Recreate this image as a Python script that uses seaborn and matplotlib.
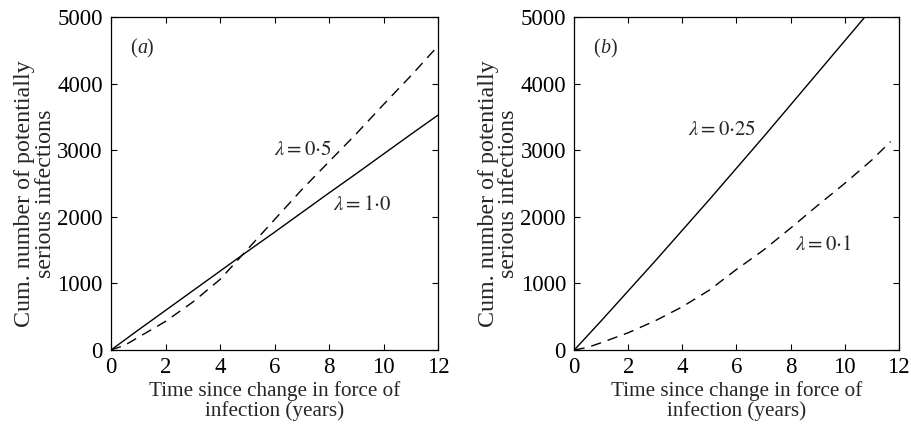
import numpy as np
import pandas as pd
import matplotlib
matplotlib.use("Agg")
import matplotlib.pyplot as plt
import seaborn as sns

# ---- data ----
# panel (a)
t_a_solid = [0, 1, 2, 3, 4, 5, 6, 7, 8, 9, 10, 11, 12]
y_a_solid = [0, 300, 595, 890, 1185, 1480, 1770, 2065, 2360, 2650, 2945, 3240, 3530]   # lambda = 1.0
t_a_dash = [0, 0.5, 1, 2, 3, 4, 5, 6, 7, 8, 9, 10, 11, 12]
y_a_dash = [0, 70, 190, 430, 720, 1060, 1510, 1960, 2410, 2830, 3250, 3690, 4120, 4570]  # lambda = 0.5
# panel (b)
t_b_solid = [0, 1, 2, 3, 4, 5, 6, 7, 8, 9, 10, 11]
y_b_solid = [0, 440, 890, 1340, 1800, 2260, 2730, 3200, 3680, 4160, 4640, 5120]        # lambda = 0.25
t_b_dash = [0, 0.5, 1, 2, 3, 4, 5, 6, 7, 8, 9, 10, 11, 11.7]
y_b_dash = [0, 40, 110, 260, 440, 650, 900, 1210, 1500, 1830, 2170, 2500, 2850, 3130]   # lambda = 0.1

x_ticks = [0, 2, 4, 6, 8, 10, 12]
y_ticks = [0, 1000, 2000, 3000, 4000, 5000]
x_label = "Time since change in force of\ninfection (years)"
y_label = "Cum. number of potentially\nserious infections"

sns.set_theme(style="ticks")
plt.rcParams["font.family"] = ["Liberation Serif", "DejaVu Serif"]
plt.rcParams["mathtext.fontset"] = "stix"
plt.rcParams["xtick.direction"] = "in"
plt.rcParams["ytick.direction"] = "in"

fig = plt.figure(figsize=(9.12, 4.24), dpi=100)
ax1 = fig.add_axes([0.1217, 0.1745, 0.3589, 0.7854])
ax2 = fig.add_axes([0.6297, 0.1745, 0.3557, 0.7854])

lw = 1.0
dash = (7.5, 5)

sns.lineplot(x=t_a_solid, y=y_a_solid, ax=ax1, color="black", linewidth=lw)
sns.lineplot(x=t_a_dash, y=y_a_dash, ax=ax1, color="black", linewidth=lw)
ax1.lines[-1].set_dashes(dash)

sns.lineplot(x=t_b_solid, y=y_b_solid, ax=ax2, color="black", linewidth=lw)
sns.lineplot(x=t_b_dash, y=y_b_dash, ax=ax2, color="black", linewidth=lw)
ax2.lines[-1].set_dashes(dash)

for ax, tag in [(ax1, "a"), (ax2, "b")]:
    ax.set_xlim(0, 12)
    ax.set_ylim(0, 5000)
    ax.set_xticks(x_ticks)
    ax.set_yticks(y_ticks)
    ax.tick_params(axis="both", which="both", top=True, right=True,
                   length=4, width=0.8, labelsize=16.5, colors="black")
    ax.tick_params(axis="x", pad=5)
    ax.tick_params(axis="y", pad=6)
    for s in ax.spines.values():
        s.set_visible(True)
        s.set_linewidth(0.9)
        s.set_color("black")
    ax.set_xlabel(x_label, fontsize=15.2, labelpad=2.5, linespacing=1.0)
    ax.set_ylabel(y_label, fontsize=17.3, labelpad=1, linespacing=0.95)
    ax.yaxis.label.set_y(0.47)
    ax.text(0.08, 0.905, "(", transform=ax.transAxes, fontsize=14.5, ha="right", va="center")
    ax.text(0.08, 0.905, tag, transform=ax.transAxes, fontsize=14.5, style="italic", ha="left", va="center")
    ax.text(0.08 + (0.028 if tag == "a" else 0.03), 0.905, ")", transform=ax.transAxes,
            fontsize=14.5, ha="left", va="center")

ax1.text(7.05, 3000, r"$\lambda = 0{\cdot}5$", fontsize=15, ha="center", va="center")
ax1.text(9.2, 2175, r"$\lambda = 1{\cdot}0$", fontsize=15, ha="center", va="center")
ax2.text(5.45, 3300, r"$\lambda = 0{\cdot}25$", fontsize=15, ha="center", va="center")
ax2.text(9.2, 1575, r"$\lambda = 0{\cdot}1$", fontsize=15, ha="center", va="center")

fig.savefig("out.png", dpi=100, facecolor="white")
